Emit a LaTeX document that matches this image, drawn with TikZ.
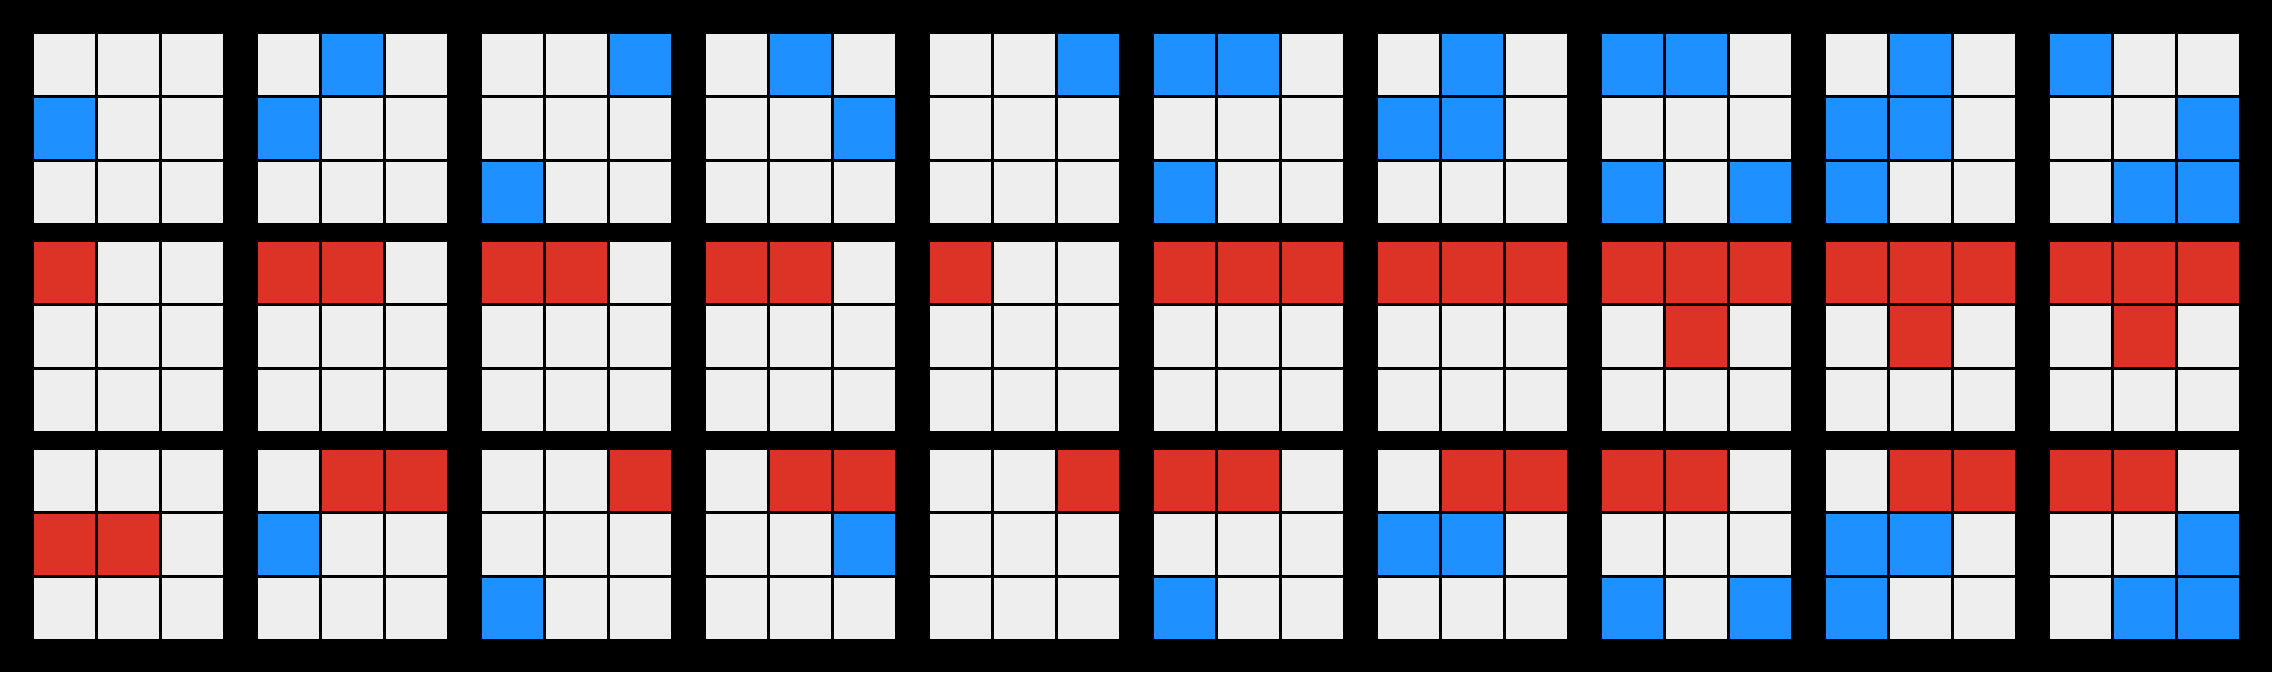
\documentclass[tikz,border=0pt]{standalone}
\definecolor{cg}{HTML}{EEEEEE}
\definecolor{cb}{HTML}{1E90FF}
\definecolor{cr}{HTML}{DD3327}
\newcommand\cellgrid[3]{%
  \foreach \cc [count=\k from 0] in {#3} {%
    \pgfmathtruncatemacro\rr{int(\k/3)}%
    \pgfmathtruncatemacro\qq{mod(\k,3)}%
    \fill[\cc] ({34+224*#1+64*\qq},{34+208*#2+64*\rr}) rectangle ++(61,61);
  }}
\begin{document}
\begin{tikzpicture}[x=1pt,y=-1pt]
\fill[black] (0,0) rectangle (2272,672);
\useasboundingbox (0,0) rectangle (2272,672);
% row 0
\cellgrid{0}{0}{cg,cg,cg,cb,cg,cg,cg,cg,cg}
\cellgrid{1}{0}{cg,cb,cg,cb,cg,cg,cg,cg,cg}
\cellgrid{2}{0}{cg,cg,cb,cg,cg,cg,cb,cg,cg}
\cellgrid{3}{0}{cg,cb,cg,cg,cg,cb,cg,cg,cg}
\cellgrid{4}{0}{cg,cg,cb,cg,cg,cg,cg,cg,cg}
\cellgrid{5}{0}{cb,cb,cg,cg,cg,cg,cb,cg,cg}
\cellgrid{6}{0}{cg,cb,cg,cb,cb,cg,cg,cg,cg}
\cellgrid{7}{0}{cb,cb,cg,cg,cg,cg,cb,cg,cb}
\cellgrid{8}{0}{cg,cb,cg,cb,cb,cg,cb,cg,cg}
\cellgrid{9}{0}{cb,cg,cg,cg,cg,cb,cg,cb,cb}
% row 1
\cellgrid{0}{1}{cr,cg,cg,cg,cg,cg,cg,cg,cg}
\cellgrid{1}{1}{cr,cr,cg,cg,cg,cg,cg,cg,cg}
\cellgrid{2}{1}{cr,cr,cg,cg,cg,cg,cg,cg,cg}
\cellgrid{3}{1}{cr,cr,cg,cg,cg,cg,cg,cg,cg}
\cellgrid{4}{1}{cr,cg,cg,cg,cg,cg,cg,cg,cg}
\cellgrid{5}{1}{cr,cr,cr,cg,cg,cg,cg,cg,cg}
\cellgrid{6}{1}{cr,cr,cr,cg,cg,cg,cg,cg,cg}
\cellgrid{7}{1}{cr,cr,cr,cg,cr,cg,cg,cg,cg}
\cellgrid{8}{1}{cr,cr,cr,cg,cr,cg,cg,cg,cg}
\cellgrid{9}{1}{cr,cr,cr,cg,cr,cg,cg,cg,cg}
% row 2
\cellgrid{0}{2}{cg,cg,cg,cr,cr,cg,cg,cg,cg}
\cellgrid{1}{2}{cg,cr,cr,cb,cg,cg,cg,cg,cg}
\cellgrid{2}{2}{cg,cg,cr,cg,cg,cg,cb,cg,cg}
\cellgrid{3}{2}{cg,cr,cr,cg,cg,cb,cg,cg,cg}
\cellgrid{4}{2}{cg,cg,cr,cg,cg,cg,cg,cg,cg}
\cellgrid{5}{2}{cr,cr,cg,cg,cg,cg,cb,cg,cg}
\cellgrid{6}{2}{cg,cr,cr,cb,cb,cg,cg,cg,cg}
\cellgrid{7}{2}{cr,cr,cg,cg,cg,cg,cb,cg,cb}
\cellgrid{8}{2}{cg,cr,cr,cb,cb,cg,cb,cg,cg}
\cellgrid{9}{2}{cr,cr,cg,cg,cg,cb,cg,cb,cb}
\end{tikzpicture}
\end{document}
